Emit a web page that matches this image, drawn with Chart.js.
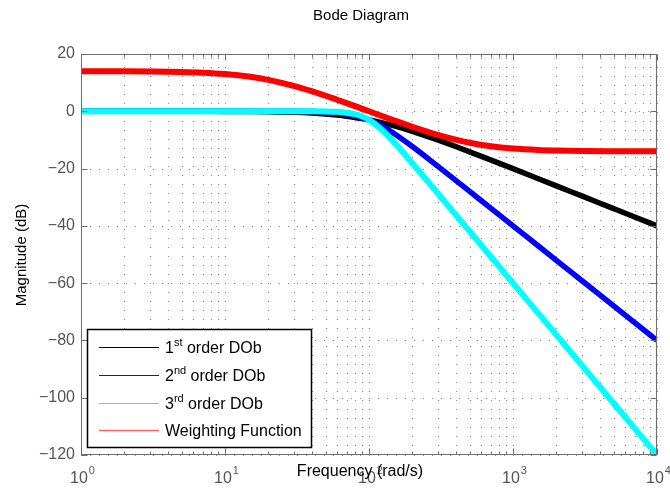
<!DOCTYPE html>
<html>
<head>
<meta charset="utf-8">
<title>Bode Diagram</title>
<script src="https://cdn.jsdelivr.net/npm/chart.js@4.4.0/dist/chart.umd.min.js"></script>
<style>
  html, body { margin: 0; padding: 0; background: #fff; }
  #wrap { width: 670px; height: 490px; }
</style>
</head>
<body>
<div id="wrap"><canvas id="bode" width="670" height="490"></canvas></div>
<script>
// frecuencias (rad/s) y magnitudes (dB) de cada curva
const freqs = [1, 2, 3, 5, 7, 10, 15, 20, 30, 40, 50, 60, 70, 80, 90, 100, 120, 150, 200, 300, 400, 500, 700, 1000, 1500, 2000, 3000, 5000, 7000, 10000];
const firstOrder = [0, 0, 0, -0.01, -0.02, -0.04, -0.1, -0.17, -0.37, -0.64, -0.97, -1.34, -1.73, -2.15, -2.57, -3.01, -3.87, -5.12, -6.99, -10.0, -12.3, -14.15, -17.0, -20.04, -23.54, -26.03, -29.55, -33.98, -36.9, -40.0];
const secondOrder = [0, 0, 0, 0, 0, 0, 0, -0.01, -0.03, -0.11, -0.26, -0.53, -0.93, -1.49, -2.19, -3.01, -4.88, -7.83, -12.3, -19.14, -24.1, -27.97, -33.8, -40.0, -47.04, -52.04, -59.08, -67.96, -73.8, -80.0];
const thirdOrder = [0, 0, 0, 0, 0, 0, 0, 0, 0, -0.02, -0.07, -0.2, -0.48, -1.01, -1.85, -3.01, -6.01, -10.93, -18.13, -28.63, -36.12, -41.94, -50.71, -60.0, -70.57, -78.06, -88.63, -101.94, -110.71, -120.0];
const weighting = [13.97, 13.94, 13.88, 13.72, 13.48, 13.01, 12.04, 10.98, 8.88, 7.02, 5.42, 4.04, 2.85, 1.79, 0.85, 0.0, -1.46, -3.23, -5.42, -8.22, -9.9, -10.98, -12.2, -13.01, -13.52, -13.72, -13.86, -13.94, -13.97, -13.98];

// ejes
const yTicks = [20, 0, -20, -40, -60, -80, -100, -120];
const xDecades = [0, 1, 2, 3, 4];

// leyenda: base, superíndice, resto
const legendLabels = [
    ['1', 'st', ' order DOb'],
    ['2', 'nd', ' order DOb'],
    ['3', 'rd', ' order DOb'],
    ['Weighting Function', '', '']
];
const legendColors = ['#000000', '#1010c8', '#40e0e0', '#ff6868'];

const FONT = '"Liberation Sans", Arial, Helvetica, sans-serif';

function toPoints(values) {
    return freqs.map((f, i) => ({ x: f, y: values[i] }));
}

// posiciones de la rejilla en x: 1..9 por década
function minorTicks() {
    const out = [];
    for (let d = 0; d < xDecades.length - 1; d++) {
        for (let m = 1; m <= 9; m++) out.push(m * Math.pow(10, xDecades[d]));
    }
    out.push(Math.pow(10, xDecades[xDecades.length - 1]));
    return out;
}

const bodePlugin = {
    id: 'bodeDecor',
    beforeDatasetsDraw(chart) {
        // rejilla punteada
        const ctx = chart.ctx;
        const a = chart.chartArea;
        const xs = chart.scales.x, ys = chart.scales.y;
        ctx.save();
        ctx.strokeStyle = '#8c8c8c';
        ctx.lineWidth = 1;
        ctx.setLineDash([1, 8]);
        minorTicks().forEach(v => {
            const px = Math.round(xs.getPixelForValue(v)) + 0.5;
            ctx.beginPath();
            ctx.moveTo(px, a.bottom);
            ctx.lineTo(px, a.top);
            ctx.stroke();
        });
        yTicks.forEach(v => {
            const py = Math.round(ys.getPixelForValue(v)) + 0.5;
            ctx.beginPath();
            ctx.moveTo(a.left, py);
            ctx.lineTo(a.right, py);
            ctx.stroke();
        });
        ctx.restore();
    },
    afterDatasetsDraw(chart) {
        const ctx = chart.ctx;
        const a = chart.chartArea;
        const xs = chart.scales.x, ys = chart.scales.y;
        ctx.save();

        // caja y marcas
        ctx.strokeStyle = '#6e6e6e';
        ctx.lineWidth = 1;
        ctx.setLineDash([]);
        const L = Math.round(a.left) + 0.5, R = Math.round(a.right) - 0.5;
        const T = Math.round(a.top) + 0.5, B = Math.round(a.bottom) - 0.5;
        ctx.strokeRect(L, T, R - L, B - T);
        ctx.beginPath();
        minorTicks().forEach(v => {
            const px = Math.round(xs.getPixelForValue(v)) + 0.5;
            const major = Math.abs(Math.log10(v) - Math.round(Math.log10(v))) < 1e-9;
            const len = major ? 6 : 3;
            ctx.moveTo(px, B); ctx.lineTo(px, B - len);
            ctx.moveTo(px, T); ctx.lineTo(px, T + len);
        });
        yTicks.forEach(v => {
            const py = Math.round(ys.getPixelForValue(v)) + 0.5;
            ctx.moveTo(L, py); ctx.lineTo(L + 6, py);
            ctx.moveTo(R, py); ctx.lineTo(R - 6, py);
        });
        ctx.stroke();

        // etiquetas del eje y
        ctx.fillStyle = '#555555';
        ctx.font = '16px ' + FONT;
        ctx.textAlign = 'right';
        ctx.textBaseline = 'middle';
        yTicks.forEach(v => {
            const txt = v < 0 ? '\u2212' + Math.abs(v) : String(v);
            ctx.fillText(txt, a.left - 6, ys.getPixelForValue(v));
        });

        // etiquetas del eje x (10^n)
        ctx.textBaseline = 'alphabetic';
        xDecades.forEach(n => {
            const px = xs.getPixelForValue(Math.pow(10, n));
            ctx.font = '16px ' + FONT;
            const w1 = ctx.measureText('10').width;
            ctx.font = '11px ' + FONT;
            const w2 = ctx.measureText(String(n)).width;
            const x0 = px - (w1 + w2) / 2 + 1;
            ctx.textAlign = 'left';
            ctx.font = '16px ' + FONT;
            ctx.fillText('10', x0, 483);
            ctx.font = '11px ' + FONT;
            ctx.fillText(String(n), x0 + w1 + 1, 474);
        });

        // títulos
        ctx.fillStyle = '#000';
        ctx.font = '16px ' + FONT;
        ctx.textAlign = 'center';
        ctx.fillText('Frequency (rad/s)', 360, 476);
        ctx.font = '15px ' + FONT;
        ctx.fillText('Bode Diagram', 361, 20);
        ctx.save();
        ctx.translate(26, 255);
        ctx.rotate(-Math.PI / 2);
        ctx.font = '15px ' + FONT;
        ctx.fillText('Magnitude (dB)', 0, 0);
        ctx.restore();

        // leyenda
        const bx = 87.5, by = 329.5, bw = 224, bh = 118;
        ctx.fillStyle = '#fff';
        ctx.fillRect(bx, by, bw, bh);
        ctx.strokeStyle = '#000';
        ctx.lineWidth = 1.5;
        ctx.strokeRect(bx, by, bw, bh);
        const rowY = [347, 375, 403, 430];
        legendLabels.forEach((lab, i) => {
            const y = rowY[i] + 0.5;
            ctx.strokeStyle = legendColors[i];
            ctx.lineWidth = i === 3 ? 1.6 : 1;
            ctx.beginPath();
            ctx.moveTo(99, y);
            ctx.lineTo(159, y);
            ctx.stroke();
            ctx.fillStyle = '#000';
            ctx.textAlign = 'left';
            ctx.textBaseline = 'alphabetic';
            let tx = 165;
            const base = rowY[i] + 6;
            ctx.font = '16px ' + FONT;
            ctx.fillText(lab[0], tx, base);
            tx += ctx.measureText(lab[0]).width;
            if (lab[1]) {
                ctx.font = '11px ' + FONT;
                ctx.fillText(lab[1], tx, base - 7);
                tx += ctx.measureText(lab[1]).width;
            }
            if (lab[2]) {
                ctx.font = '16px ' + FONT;
                ctx.fillText(lab[2], tx, base);
            }
        });

        ctx.restore();
    }
};

new Chart(document.getElementById('bode').getContext('2d'), {
    type: 'line',
    data: {
        datasets: [
            { label: 'Weighting Function', data: toPoints(weighting), borderColor: '#ff0000', borderWidth: 6, order: 0 },
            { label: '3rd order DOb', data: toPoints(thirdOrder), borderColor: '#00ffff', borderWidth: 6, order: 1 },
            { label: '2nd order DOb', data: toPoints(secondOrder), borderColor: '#0000ff', borderWidth: 5.5, order: 2 },
            { label: '1st order DOb', data: toPoints(firstOrder), borderColor: '#000000', borderWidth: 5.5, order: 3 }
        ]
    },
    options: {
        responsive: false,
        animation: false,
        elements: {
            point: { radius: 0 },
            line: { cubicInterpolationMode: 'monotone', fill: false }
        },
        layout: { padding: { left: 81, top: 54, right: 13, bottom: 35 } },
        plugins: {
            legend: { display: false },
            tooltip: { enabled: false },
            title: { display: false }
        },
        scales: {
            x: { type: 'logarithmic', min: 1, max: 10000, display: false },
            y: { type: 'linear', min: -120, max: 20, display: false }
        }
    },
    plugins: [bodePlugin]
});
</script>
</body>
</html>
